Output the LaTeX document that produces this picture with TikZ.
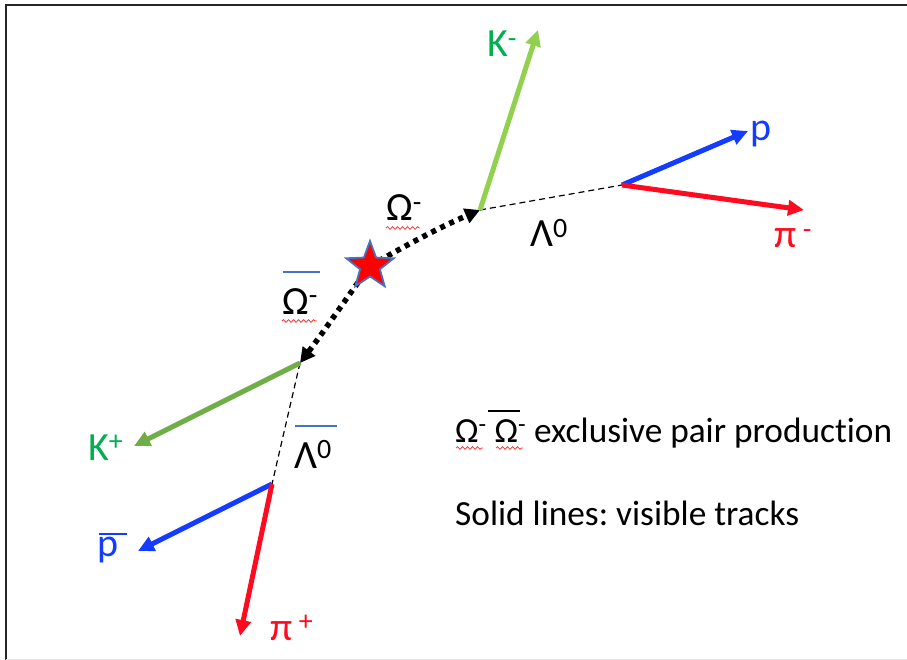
\documentclass[tikz,border=0pt]{standalone}
\usepackage{fontspec}
\setmainfont[Ligatures=NoCommon]{Carlito}
\usetikzlibrary{arrows.meta,shapes.geometric,decorations.pathmorphing}
\definecolor{kgreenA}{HTML}{92D050}
\definecolor{kgreenB}{HTML}{70AD47}
\definecolor{ktext}{HTML}{00B050}
\definecolor{tblue}{RGB}{20,60,255}
\definecolor{tred}{RGB}{255,10,30}
\definecolor{barblue}{HTML}{4472C4}
\tikzset{
  track/.style={line width=5pt,-{Triangle[length=16pt,width=15pt]}},
  neutral/.style={line width=1.2pt,dash pattern=on 6pt off 4pt},
  omegapath/.style={line width=5.5pt,dash pattern=on 5pt off 5pt,-{Triangle[length=15pt,width=15pt]}},
  lbl/.style={font=\fontsize{40}{48}\selectfont,inner sep=0pt},
  leg/.style={font=\fontsize{35.3}{42}\selectfont,inner sep=0pt},
  wavy/.style={draw=red!80,line width=0.8pt,decorate,decoration={snake,amplitude=1.3pt,segment length=5pt}},
  bar/.style={line width=2.5pt},
}
\begin{document}
\frenchspacing
\begin{tikzpicture}[x=1pt,y=-1pt]
\useasboundingbox (0,0) rectangle (907,660);
% frame
\draw[line width=2pt,black!85] (6,660) -- (6,5) -- (907,5);
\draw[line width=0.8pt,black!10] (6,659) -- (907,659);
% vertices
\coordinate (prod) at (370,266);
\coordinate (vO) at (480,210);
\coordinate (vL) at (622,185);
\coordinate (vOb) at (300,363);
\coordinate (vLb) at (272,484);
\coordinate (Kmend) at (538,30);
\coordinate (pend) at (748,131);
\coordinate (pimend) at (804,210);
\coordinate (Kpend) at (134,446);
\coordinate (pbend) at (138,551);
\coordinate (pipend) at (240,636);
% neutral lambdas
\draw[neutral] (vO) -- (vL);
\draw[neutral] (vOb) -- (vLb);
% omega paths
\draw[omegapath] (prod) .. controls (415,240) and (445,225) .. (vO);
\draw[omegapath] (prod) .. controls (345,300) and (325,330) .. (vOb);
% tracks
\draw[track,kgreenA] (vO) -- (Kmend);
\draw[track,tblue] (vL) -- (pend);
\draw[track,tred] (vL) -- (pimend);
\draw[track,kgreenB] (vOb) -- (Kpend);
\draw[track,tblue] (vLb) -- (pbend);
\draw[track,tred] (vLb) -- (pipend);
% star
\node[star,star points=5,star point ratio=2.4,minimum size=50pt,inner sep=0pt,fill=red,draw=barblue,line width=1.8pt] (star) at (prod) {};
% labels
\node[lbl,text=ktext,anchor=base west] (lKm) at (487,57) {K\textsuperscript{-}};
\node[lbl,text=tblue,anchor=base west] (lp) at (750,141) {p};
\node[lbl,text=tred,anchor=base west] (lpim) at (774,248) {π\,\textsuperscript{-}};
\node[lbl,anchor=base west] (lL) at (530,247) {Λ\textsuperscript{0}};
\node[lbl,anchor=base west] (lO) at (386,221) {Ω\textsuperscript{-}};
\draw[wavy] (386,228) -- (420,228);
\node[lbl,anchor=base west] (lOb) at (282,314) {Ω\textsuperscript{-}};
\draw[bar,barblue] (283,272) -- (320,272);
\draw[wavy] (282,321) -- (317,321);
\node[lbl,text=ktext,anchor=base west] (lKp) at (88,460) {K\textsuperscript{+}};
\node[lbl,anchor=base west] (lLb) at (294,468) {Λ\textsuperscript{0}};
\draw[bar,barblue] (295,426) -- (337,426);
\node[lbl,text=tblue,anchor=base west] (lpb) at (97,556) {p};
\draw[bar,tblue] (99,534) -- (127,534);
\node[lbl,text=tred,anchor=base west] (lpip) at (270,640) {π\,\textsuperscript{+}};
% legend
\node[leg,anchor=base west] (leg1) at (455,442) {Ω\textsuperscript{-} Ω\textsuperscript{-} exclusive pair production};
\draw[line width=1.8pt] (488,411) -- (520,411);
\draw[wavy] (456,448) -- (483,448);
\draw[wavy] (496,448) -- (523,448);
\node[leg,anchor=base west] (leg2) at (455,525) {Solid lines: visible tracks};
\end{tikzpicture}
\end{document}
